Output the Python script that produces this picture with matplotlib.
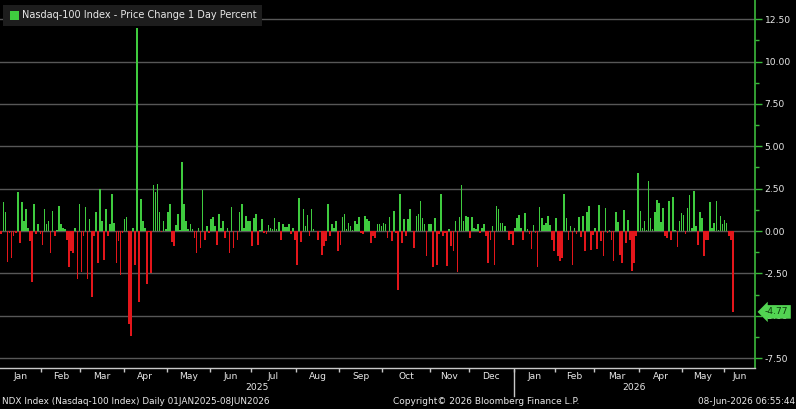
import matplotlib
matplotlib.use('Agg')
import matplotlib.pyplot as plt
import numpy as np
from matplotlib.lines import Line2D
from matplotlib.patches import Rectangle
import matplotlib.transforms as mtransforms

# ---------------- data (daily % change, Nasdaq-100) ----------------
month_labels = ['Jan', 'Feb', 'Mar', 'Apr', 'May', 'Jun', 'Jul', 'Aug', 'Sep',
                'Oct', 'Nov', 'Dec', 'Jan', 'Feb', 'Mar', 'Apr', 'May', 'Jun']
year_labels = ['2025', '2026']

jan25 = [-0.16, 1.7, 1.1, -1.8, -0.1, -1.6, -0.3, -0.1, 2.3, -0.7, 1.7, 0.6, 1.3, 0.2,
         -0.6, -3.0, 1.6, -0.2, 0.4, -0.2]
feb25 = [-0.8, 1.3, 0.4, 0.6, -1.3, 1.2, -0.3, 0.05, 1.5, 0.4, 0.2, 0.1, -0.5, -2.1,
         -1.2, -1.3, 0.2, -2.8, 1.6]
mar25 = [-2.4, -0.3, 1.4, -2.8, 0.7, -3.9, -0.3, 1.1, -1.9, 2.5, 0.6, -1.7, 1.3, -0.3,
         0.4, 2.2, 0.5, -1.9, -0.6, -2.6, -0.1]
apr25 = [0.7, 0.8, -5.5, -6.2, 0.2, -2.0, 12.0, -4.2, 1.9, 0.6, 0.2, -3.1, -0.05, -2.5,
         2.7, 2.3, 2.8, 1.1, -0.05, 0.6, 0.1]
may25 = [1.1, 1.6, -0.65, -0.9, 0.35, 1.0, 0.05, 4.1, 1.6, 0.6, 0.1, 0.4, 0.1, -0.4,
         -1.3, 0.2, -1.0, 2.4, -0.5, 0.3, -0.1]
jun25 = [0.7, 0.8, 0.3, -0.8, 1.0, 0.15, 0.6, -0.4, 0.2, -1.3, 1.4, -1.0, 0.03, -0.5,
         1.1, 1.6, 0.2, 0.9, 0.6, 0.6]
jul25 = [-0.9, 0.75, 1.0, -0.8, 0.05, 0.7, -0.1, -0.15, 0.35, 0.15, 0.1, 0.75, 0.1, 0.55,
         -0.5, 0.4, 0.25, 0.25, 0.4, -0.15, 0.2, -0.5]
aug25 = [-2.0, 1.95, -0.65, 1.3, 0.3, 0.95, -0.3, 1.3, 0.1, 0.03, -0.5, 0.03, -1.4, -0.9,
         -0.6, 1.6, -0.3, 0.4, 0.2, 0.6, -1.2]
sep25 = [-0.8, 0.8, 1.0, 0.1, 0.5, 0.3, 0.05, 0.6, 0.4, 0.8, -0.1, -0.2, 0.9, 0.7, 0.6,
         -0.7, -0.3, -0.4, 0.4, 0.4, 0.3]
oct25 = [0.5, 0.4, -0.4, 0.8, -0.6, 1.2, -0.1, -3.5, 2.2, -0.7, 0.7, -0.3, 0.7, 1.3,
         0.03, -1.0, 0.9, 1.0, 1.8, 0.75, 0.4, -1.5, 0.4]
nov25 = [0.4, -2.1, 0.75, -2.0, -0.2, 2.2, -0.3, -0.1, -2.05, 0.1, -0.9, -1.2, 0.6, -2.4,
         0.8, 2.7, 0.6, 0.9, 0.8]
dec25 = [-0.4, 0.8, 0.2, 0.1, 0.4, -0.1, 0.2, 0.4, -0.3, -1.9, -0.5, 0.3, -2.0, 1.5, 1.3,
         0.5, 0.5, 0.3, 0.03, -0.5, -0.2, -0.85]
jan26 = [0.15, 0.75, 0.95, 0.15, -0.5, 1.05, 0.1, -0.2, -1.05, 0.35, -0.1, -2.1, 1.4,
         0.75, 0.35, 0.45, 0.9, 0.35, -0.5, -1.2]
feb26 = [0.75, -1.5, -1.75, -1.6, 2.2, 0.75, -0.5, 0.3, -2.0, 0.2, -0.15, 0.8, -0.35,
         0.9, -1.2, 1.1, 1.45, -1.1, -0.25]
mar26 = [0.15, -1.05, 1.55, -0.6, -1.45, 1.35, -0.1, 0.05, -0.5, -1.75, 1.15, 0.55, -1.4,
         -1.9, 1.25, -0.7, 0.65, -0.5, -2.35, -1.9, -0.3, 3.45]
apr26 = [1.2, 0.15, 0.6, 0.05, 2.95, 0.75, 0.1, 1.1, 1.85, 1.65, 0.55, 1.35, -0.3, -0.4,
         1.75, -0.5, 2.0, 0.05, -0.95, 0.6, 1.05]
may26 = [0.95, -0.15, 1.35, 2.15, 0.15, 2.35, 0.3, -0.8, 1.1, 0.75, -1.5, -0.5, -0.55,
         1.7, 0.2, 0.45, 1.8, 0.05, 0.9, 0.4]
jun26 = [0.65, 0.5, -0.3, -0.5, -4.77]

monthly = [jan25, feb25, mar25, apr25, may25, jun25, jul25, aug25, sep25, oct25,
           nov25, dec25, jan26, feb26, mar26, apr26, may26, jun26]
last_label = '-4.77'

# ---------------- style ----------------
GREEN = '#3fcb3f'
RED = '#e3161b'
AXGREEN = '#3cb83c'
TXT = '#e8e8e8'
GRID = '#575757'

W, H = 796, 409
fig = plt.figure(figsize=(W / 100, H / 100), dpi=100, facecolor='black')
ax_l, ax_r, ax_t, ax_b = 0, 755, 0, 368
ax = fig.add_axes([ax_l / W, (H - ax_b) / H, (ax_r - ax_l) / W, (ax_b - ax_t) / H])
ax.set_facecolor('black')

values = np.concatenate([np.asarray(m, float) for m in monthly])
n = len(values)
xs = np.arange(n)
cols = [GREEN if v >= 0 else RED for v in values]
ax.bar(xs, values, width=0.8, color=cols, linewidth=0, zorder=3, antialiased=True)

x_lo, x_hi = -0.63, 366.8
y_lo, y_hi = -8.08, 13.63

# y axis on right
major = np.arange(-7.5, 12.51, 2.5)
minor = np.arange(-6.25, 13.76, 1.25)
minor = [m for m in minor if not np.any(np.isclose(m, major)) and y_lo < m < y_hi]
ax.yaxis.tick_right()
ax.set_yticks(major)
ax.set_yticklabels([f'{v:.2f}' for v in major])
ax.set_yticks(minor, minor=True)
ax.tick_params(axis='y', which='major', colors=AXGREEN, length=5, width=1,
               labelcolor=TXT, labelsize=6.6, pad=2, direction='out')
ax.tick_params(axis='y', which='minor', colors=AXGREEN, length=3, width=1,
               direction='out')
ax.grid(axis='y', which='major', color=GRID, lw=1.0, zorder=0)

for s in ['top', 'left']:
    ax.spines[s].set_visible(False)
ax.spines['right'].set_color(AXGREEN)
ax.spines['right'].set_linewidth(1.2)
ax.spines['bottom'].set_color('#c8c8c8')
ax.spines['bottom'].set_linewidth(1.0)

# month ticks (boundaries) and labels (centres)
starts = np.cumsum([0] + [len(m) for m in monthly[:-1]])
bounds = starts - 0.5
ax.set_xticks(bounds[1:])
ax.set_xticklabels([])
ax.tick_params(axis='x', which='major', colors='#c8c8c8', length=3, width=1,
               direction='out')
ends = list(bounds[1:]) + [x_hi]
centres = [(a + b) / 2 for a, b in zip(bounds, ends)]
ax.set_xticks(centres, minor=True)
ax.set_xticklabels(month_labels, minor=True)
ax.tick_params(axis='x', which='minor', length=0, labelcolor=TXT, labelsize=6.6, pad=3)

ax.set_xlim(x_lo, x_hi)
ax.set_ylim(y_lo, y_hi)

# year labels and separator
trans = mtransforms.blended_transform_factory(ax.transData, fig.transFigure)
yr_split = bounds[12]
ax.text((x_lo + yr_split) / 2, (H - 388) / H, year_labels[0], transform=trans,
        ha='center', va='center', color=TXT, fontsize=6.6)
ax.text((yr_split + x_hi) / 2, (H - 388) / H, year_labels[1], transform=trans,
        ha='center', va='center', color=TXT, fontsize=6.6)
fig.add_artist(Line2D([yr_split, yr_split], [(H - 370) / H, (H - 396) / H],
                      transform=trans, color='#c8c8c8', lw=1))

# legend box
fig.add_artist(Rectangle((3 / W, (H - 26) / H), 259 / W, 21 / H, transform=fig.transFigure,
                         facecolor='#1d1d1d', edgecolor='none', zorder=5))
fig.add_artist(Rectangle((10 / W, (H - 20) / H), 9 / W, 9 / H, transform=fig.transFigure,
                         facecolor=GREEN, edgecolor='none', zorder=6))
fig.text(22 / W, (H - 15.5) / H, 'Nasdaq-100 Index - Price Change 1 Day Percent',
         color=TXT, fontsize=7.0, va='center', ha='left', zorder=7)

# last value label
ax.annotate(last_label, xy=(1.0, values[-1]), xycoords=('axes fraction', 'data'),
            xytext=(10, 0), textcoords='offset pixels', ha='left', va='center',
            fontsize=6.6, color='#0d3d0d', annotation_clip=False, zorder=10,
            bbox=dict(boxstyle='larrow,pad=0.25', fc='#52d452', ec='none'))

# footer
fig.text(2 / W, (H - 402) / H, 'NDX Index (Nasdaq-100 Index) Daily 01JAN2025-08JUN2026',
         color=TXT, fontsize=6.4, va='center', ha='left')
fig.text(393 / W, (H - 402) / H, 'Copyright\u00a9 2026 Bloomberg Finance L.P.',
         color=TXT, fontsize=6.5, va='center', ha='left')
fig.text(795 / W, (H - 402) / H, '08-Jun-2026 06:55:44',
         color=TXT, fontsize=6.4, va='center', ha='right')

fig.savefig('out.png', dpi=100, facecolor='black')
